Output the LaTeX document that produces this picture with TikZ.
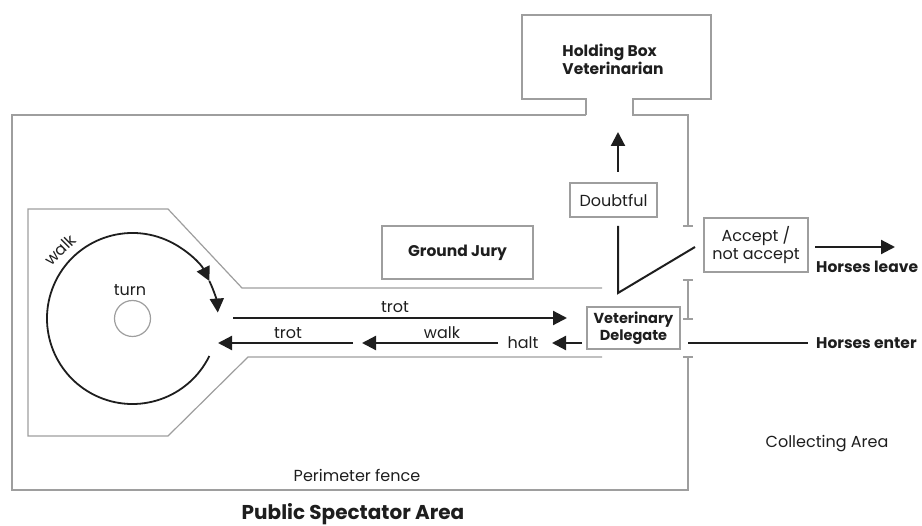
\documentclass[tikz,border=0pt]{standalone}
\usepackage{fontspec}
\setmainfont{Poppins}
\usetikzlibrary{arrows.meta}
\definecolor{fencegray}{HTML}{9E9E9E}
\definecolor{ink}{HTML}{1E1E1E}
\tikzset{
  fence/.style={draw=fencegray, line width=1.2pt},
  tick/.style={draw=fencegray, line width=1.2pt},
  arr/.style={draw=ink, line width=2.2pt, -{Triangle[length=14pt,width=14pt]}},
  plainline/.style={draw=ink, line width=2pt},
  box/.style={draw=fencegray, line width=1.1pt, inner sep=0pt, align=center, text=ink},
  lbl/.style={text=ink, font=\fontsize{16}{18}\selectfont, inner sep=0pt},
  blbl/.style={text=ink, font=\fontsize{15.5}{18}\selectfont\bfseries, inner sep=0pt},
}
\begin{document}
\begin{tikzpicture}[x=1pt,y=-1pt]
\useasboundingbox (0,0) rectangle (922,526);
% perimeter fence and holding box
\draw[fence] (586,115) -- (12,115) -- (12,490) -- (688,490) -- (688,357);
\draw[fence] (586,115) -- (586,99) -- (522,99) -- (522,15) -- (711,15) -- (711,99) -- (633,99) -- (633,115) -- (688,115) -- (688,226);
\draw[tick] (683,226) -- (693,226);
\draw[tick] (688,280) -- (688,319);
\draw[tick] (683,280) -- (693,280);
\draw[tick] (683,319) -- (693,319);
\draw[tick] (683,357) -- (693,357);
% track
\draw[fence] (602,288) -- (242,288) -- (168,209) -- (28,209) -- (28,436) -- (168,436) -- (248,357) -- (602,357);
% turn circle
\coordinate (c) at (132.5,318.5);
\draw[fence] (c) circle[radius=18];
\node[lbl] (turn) at (130,290) {turn};
% walk arc
\draw[arr, line width=1.8pt] ([shift={(26:85.5)}]c) arc[start angle=26, end angle=334, radius=85.5];
\draw[arr, line width=1.8pt] ([shift={(334:85.5)}]c) arc[start angle=334, end angle=356, radius=85.5];
\node[lbl, rotate=45] (walkc) at (60,250) {walk};
% boxes
\node[blbl, align=left] (hb) at (613,59) {Holding Box\\Veterinarian};
\node[box, blbl, minimum width=151pt, minimum height=53pt] (gj) at (457.5,252.5) {Ground Jury};
\node[box, blbl, minimum width=93pt, minimum height=42pt, font=\fontsize{14.5}{16.5}\selectfont\bfseries] (vd) at (633.5,328) {Veterinary\\Delegate};
\node[box, lbl, minimum width=87pt, minimum height=34pt] (doubt) at (613.5,200) {Doubtful};
\node[box, lbl, minimum width=104pt, minimum height=54pt, font=\fontsize{16}{18}\selectfont] (acc) at (756,245) {Accept /\\not accept};
% track arrows
\coordinate (t1s) at (233,318);
\coordinate (t1e) at (567,318);
\coordinate (t2s) at (353,343);
\coordinate (t2e) at (218,343);
\coordinate (w1s) at (498,343);
\coordinate (w1e) at (362,343);
\coordinate (vds) at (582,343);
\coordinate (halte) at (552,343);
\node[lbl] (halt) at (523,343) {halt};
\draw[arr] (t1s) -- (t1e);
\draw[arr] (t2s) -- (t2e);
\draw[arr] (w1s) -- (w1e);
\draw[arr] (vds) -- (halte);
\node[lbl] (trotT) at (395,307) {trot};
\node[lbl] (trotB) at (288,333) {trot};
\node[lbl] (walkB) at (442,333) {walk};
% doubtful / accept connections
\coordinate (vtop) at (618,226);
\coordinate (vbot) at (618,293);
\coordinate (vright) at (695,247);
\draw[plainline] (vtop) -- (vbot) -- (vright);
\coordinate (upS) at (618,172);
\coordinate (upE) at (618,132);
\draw[arr] (upS) -- (upE);
% horses
\node[blbl, anchor=west] (leave) at (816,267) {Horses leave};
\node[blbl, anchor=west] (enter) at (816,343) {Horses enter};
\coordinate (lvS) at (815,247);
\coordinate (lvE) at (895,247);
\draw[arr] (lvS) -- (lvE);
\coordinate (enS) at (688,343);
\coordinate (enE) at (808,343);
\draw[plainline] (enS) -- (enE);
% area labels
\node[lbl] (coll) at (827,444) {Collecting Area};
\node[lbl] (perim) at (357,475) {Perimeter fence};
\node[text=ink, font=\fontsize{20}{24}\selectfont\bfseries, inner sep=0pt] (pub) at (353,514) {Public Spectator Area};
\end{tikzpicture}
\end{document}
